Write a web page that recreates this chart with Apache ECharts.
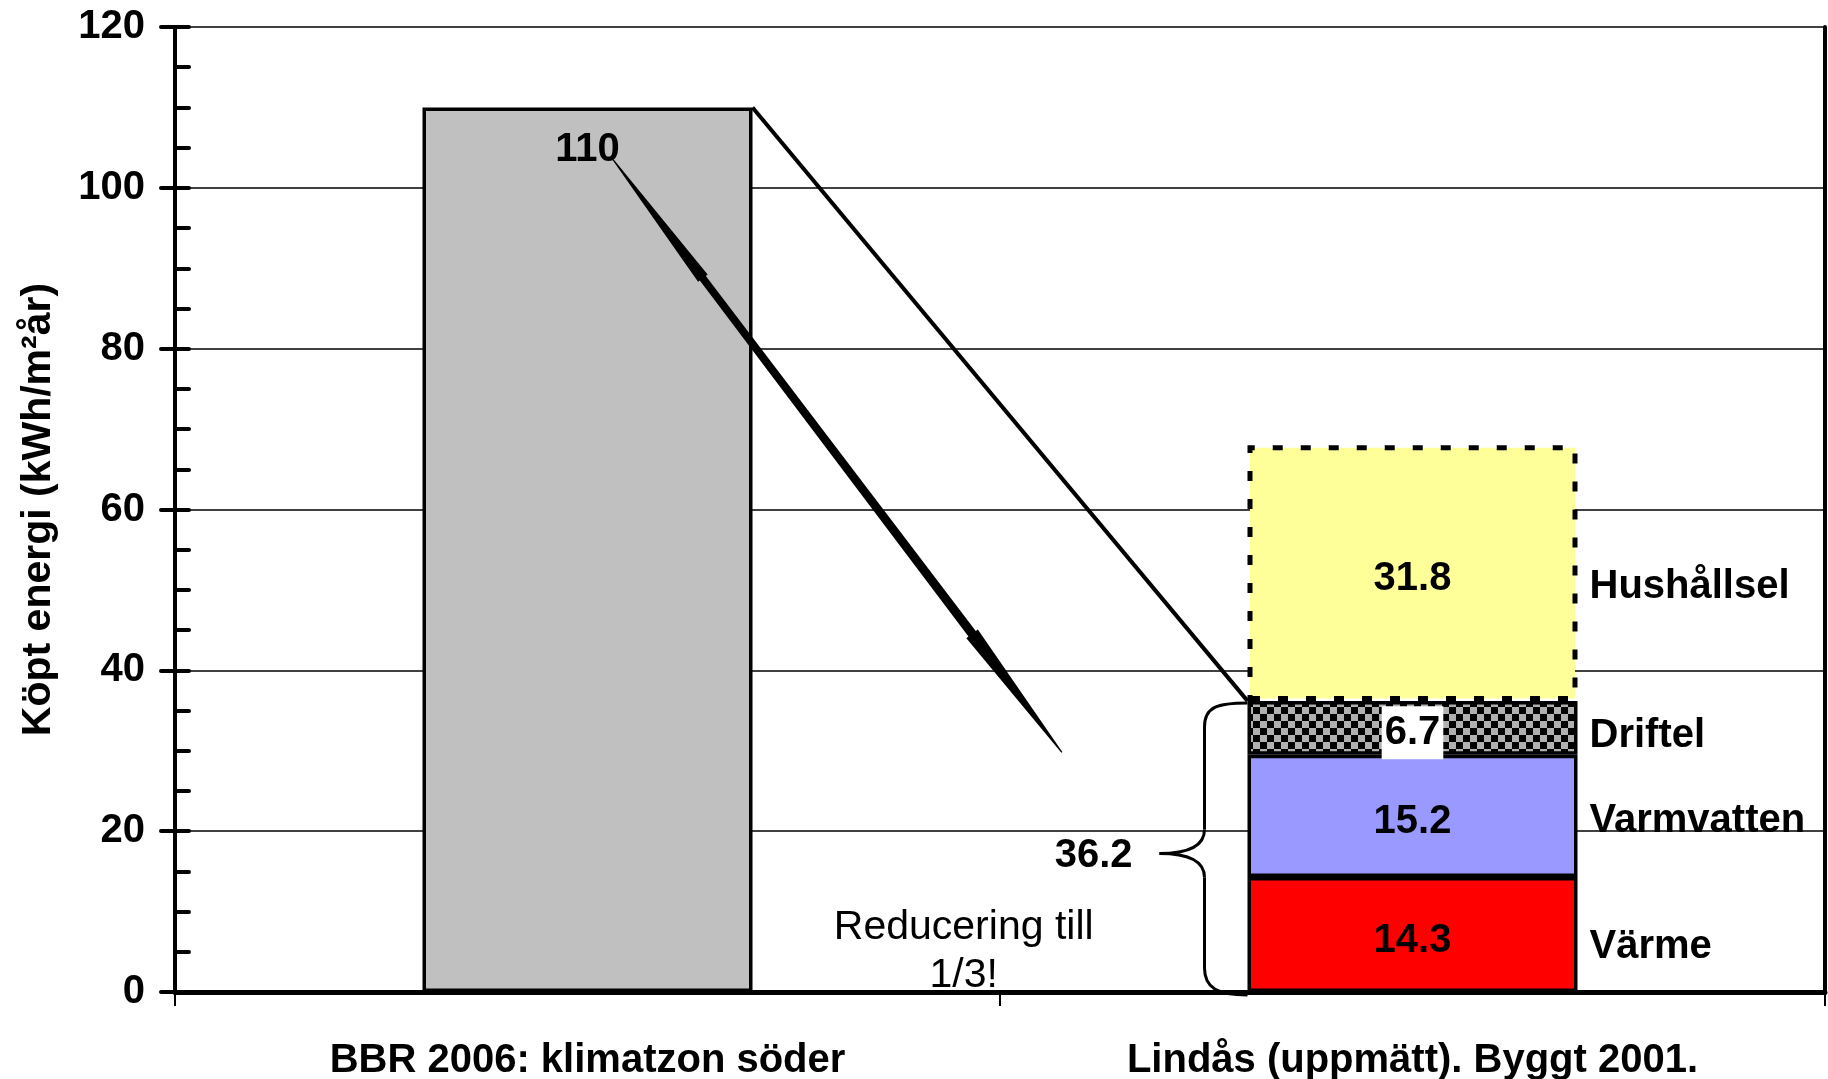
<!DOCTYPE html>
<html><head><meta charset="utf-8">
<script src="https://cdn.jsdelivr.net/npm/echarts@6/dist/echarts.min.js"></script>
<style>html,body{margin:0;padding:0;background:#fff}#c{width:1828px;height:1079px}</style>
</head><body><div id="c"></div>
<script>
// ---- data ----
const categories = ['BBR 2006: klimatzon söder', 'Lindås (uppmätt). Byggt 2001.'];
const yMin = 0, yMax = 120, yInterval = 20;
const bbrValues = [110, '-'];
const segmentNames = ['Värme', 'Varmvatten', 'Driftel', 'Hushållsel'];
const varmeValues = ['-', 14.3];
const varmvattenValues = ['-', 15.2];
const driftelValues = ['-', 6.7];
const hushallselValues = ['-', 31.8];
const yAxisTitle = 'Köpt energi (kWh/m²år)';
const noteText = 'Reducering till\n1/3!';
// annotation anchors: [category position, value]
const arrowFrom = [0.031, 103.5];
const arrowTo = [0.575, 29.8];
const notePos = [0.456, 5.05];

// ---- chart ----
const FONT = "'Liberation Sans', Arial, Helvetica, sans-serif";
const BW = 330;
const FS = 40;
const chart = echarts.init(document.getElementById('c'));

const pc = document.createElement('canvas'); pc.width = 14; pc.height = 14;
const pctx = pc.getContext('2d');
pctx.fillStyle = '#B0B0B0'; pctx.fillRect(0, 0, 14, 14);
pctx.fillStyle = '#000'; pctx.fillRect(0, 0, 7, 7); pctx.fillRect(7, 7, 7, 7);

const boldText = {color: '#000', fontSize: FS, fontWeight: 'bold', fontFamily: FONT};

const segData = [varmeValues, varmvattenValues, driftelValues, hushallselValues];
const segStyles = [
  {color: '#FF0000', borderColor: '#000', borderWidth: 3.5},
  {color: '#9999FF', borderColor: '#000', borderWidth: 3.5},
  {color: {image: pc, repeat: 'repeat'}, borderColor: '#000', borderWidth: 3.5},
  {color: '#FFFF99', borderColor: '#000', borderWidth: 5, borderType: [10, 18]}
];
const nameOffsets = [[0, 12], [0, 5], [0, 8], [0, 14]];

const series = [{
  name: 'BBR 2006', type: 'bar', stack: 'a', data: bbrValues, barWidth: BW, barGap: '-100%',
  itemStyle: {color: '#C0C0C0', borderColor: '#000', borderWidth: 3.5},
  label: Object.assign({show: true, position: 'insideTop', distance: 23}, boldText),
  z: 2
}];
segmentNames.forEach((n, i) => {
  const lbl = Object.assign({show: true, position: 'inside', offset: [0, 6]}, boldText);
  if (n === 'Driftel') {
    Object.assign(lbl, {backgroundColor: '#fff', padding: [6, 3, 5, 3], lineHeight: 42, offset: [0, 5]});
  }
  series.push({
    name: n, type: 'bar', stack: 'a', data: segData[i], barWidth: BW, barGap: '-100%',
    itemStyle: segStyles[i], label: lbl, z: 2
  });
});
segmentNames.forEach((n, i) => {
  series.push({
    name: n + ' ', type: 'bar', stack: 'n', data: segData[i], barWidth: BW, barGap: '-100%',
    itemStyle: {color: 'rgba(0,0,0,0)'}, silent: true,
    label: Object.assign({show: true, position: 'right', distance: 12, offset: nameOffsets[i],
      formatter: () => n}, boldText),
    z: 3
  });
});

chart.setOption({
  animation: false,
  backgroundColor: '#fff',
  grid: {left: 175, right: 3, top: 27, bottom: 87, containLabel: false, outerBoundsMode: 'none'},
  xAxis: [{
    type: 'category', data: categories, position: 'bottom',
    axisLine: {lineStyle: {color: '#000', width: 4}},
    axisTick: {show: true, length: 14, lineStyle: {color: '#000', width: 2}},
    axisLabel: Object.assign({margin: 49, interval: 0}, boldText),
    splitLine: {show: false}
  }, {
    type: 'category', data: categories, position: 'top',
    axisLine: {lineStyle: {color: '#000', width: 5}},
    axisTick: {show: false}, axisLabel: {show: false}, splitLine: {show: false}
  }],
  yAxis: [{
    type: 'value', min: yMin, max: yMax, interval: yInterval, position: 'left',
    name: yAxisTitle, nameLocation: 'middle', nameGap: 116, nameRotate: 90,
    nameTextStyle: Object.assign({}, boldText, {fontSize: 41}),
    axisLine: {show: true, lineStyle: {color: '#000', width: 4}},
    axisTick: {show: true, inside: false, length: 14, lineStyle: {color: '#000', width: 4, cap: 'round'}},
    axisLabel: Object.assign({margin: 30}, boldText),
    splitLine: {show: true, lineStyle: {color: '#000', width: 1.5}}
  }, {
    type: 'value', min: yMin, max: yMax, interval: yInterval, position: 'left',
    axisLine: {show: true, lineStyle: {color: '#000', width: 4}},
    axisTick: {show: true, inside: true, length: 14, lineStyle: {color: '#000', width: 4, cap: 'round'}},
    minorTick: {show: true, splitNumber: 4, length: 14, lineStyle: {color: '#000', width: 4, cap: 'round'}},
    axisLabel: {show: false}, splitLine: {show: false}
  }, {
    type: 'value', min: yMin, max: yMax, interval: yInterval, position: 'right',
    axisLine: {show: true, lineStyle: {color: '#000', width: 4}},
    axisTick: {show: false}, axisLabel: {show: false}, splitLine: {show: false}
  }],
  series: series
});

// ---- annotations placed through the axes ----
const c0 = chart.convertToPixel({xAxisIndex: 0}, 0);
const c1 = chart.convertToPixel({xAxisIndex: 0}, 1);
const X = p => c0 + p * (c1 - c0);
const Y = v => chart.convertToPixel({yAxisIndex: 0}, v);

const lowerSum = varmeValues[1] + varmvattenValues[1] + driftelValues[1];
const bar0Right = c0 + BW / 2;
const bar1Left = c1 - BW / 2;

// arrow polygon
const S = [X(arrowFrom[0]), Y(arrowFrom[1])];
const E = [X(arrowTo[0]), Y(arrowTo[1])];
const dx = E[0] - S[0], dy = E[1] - S[1];
const L = Math.hypot(dx, dy);
const u = [dx / L, dy / L], nrm = [-u[1], u[0]];
const prof = [[0, 0.6], [0.2, 6], [0.2, 3.8], [0.8, 4.6], [0.8, 7.2], [1, 0.6]];
const pt = (t, h) => [S[0] + u[0] * t * L + nrm[0] * h, S[1] + u[1] * t * L + nrm[1] * h];
const arrowPts = prof.map(p => pt(p[0], p[1])).concat(prof.slice().reverse().map(p => pt(p[0], -p[1])));

// brace
const T = Y(lowerSum), B = Y(0), M = (T + B) / 2 + 7;
const bx = bar1Left, bw = 43, bp = 88;
const braceStyle = {stroke: '#000', lineWidth: 3, fill: null};
const bz = (x1, y1, cx1, cy1, cx2, cy2, x2, y2) => ({type: 'bezierCurve', z: 100,
  shape: {x1, y1, cpx1: cx1, cpy1: cy1, cpx2: cx2, cpy2: cy2, x2, y2}, style: braceStyle});
const ln = (x1, y1, x2, y2) => ({type: 'line', z: 100, shape: {x1, y1, x2, y2}, style: braceStyle});
const braceEls = [
  bz(bx, T + 2, bx - 30, T + 2, bx - bw, T + 6, bx - bw, T + 26),
  ln(bx - bw, T + 26, bx - bw, M - 24),
  bz(bx - bw, M - 24, bx - bw, M - 8, bx - 58, M, bx - bp, M),
  bz(bx - bp, M, bx - 58, M, bx - bw, M + 8, bx - bw, M + 24),
  ln(bx - bw, M + 24, bx - bw, B - 24),
  bz(bx - bw, B - 24, bx - bw, B - 4, bx - 30, B + 3, bx, B + 3)
];

chart.setOption({
  graphic: {elements: [
    {type: 'line', z: 100, shape: {x1: bar0Right, y1: Y(bbrValues[0]), x2: bar1Left, y2: Y(lowerSum)},
     style: {stroke: '#000', lineWidth: 4}},
    {type: 'polygon', z: 100, shape: {points: arrowPts}, style: {fill: '#000'}}
  ].concat(braceEls, [
    {type: 'text', z: 100, x: bx - bp - 27, y: M + 3,
     style: {text: lowerSum.toFixed(1), fill: '#000', font: 'bold ' + FS + 'px ' + FONT,
             align: 'right', verticalAlign: 'middle'}},
    {type: 'text', z: 100, x: X(notePos[0]), y: Y(notePos[1]),
     style: {text: noteText, fill: '#000', font: '41px ' + FONT, lineHeight: 48,
             align: 'center', verticalAlign: 'middle'}}
  ])}
});
</script></body></html>
